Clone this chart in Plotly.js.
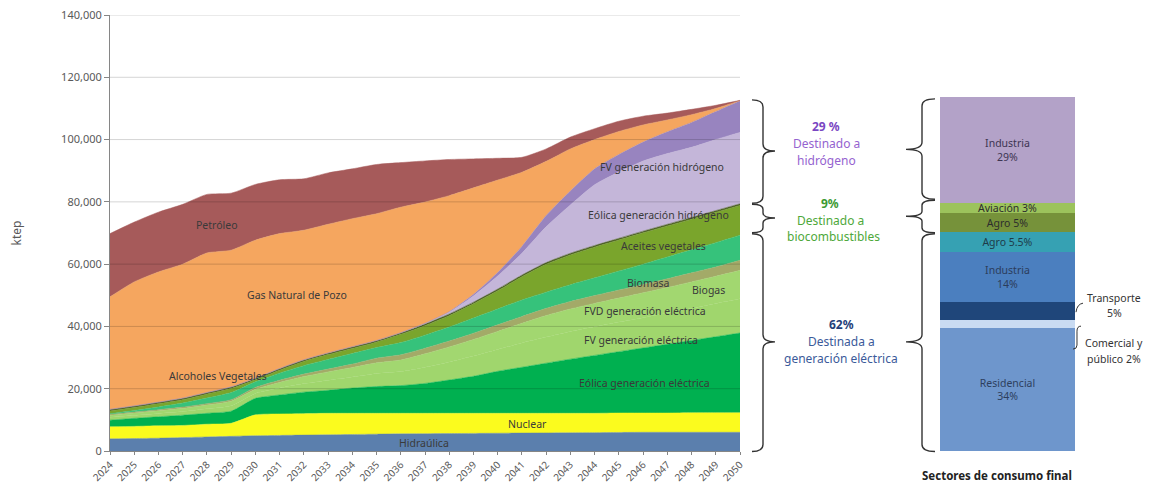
<!DOCTYPE html>
<html><head><meta charset="utf-8">
<script src="https://cdn.plot.ly/plotly-3.0.1.min.js"></script>
<style>html,body{margin:0;padding:0;background:#fff;}#chart{width:1151px;height:486px;}</style>
</head><body><div id="chart"></div>
<script>
// ---- data (ktep) ----
const years = [2024,2025,2026,2027,2028,2029,2030,2031,2032,2033,2034,2035,2036,2037,2038,2039,2040,2041,2042,2043,2044,2045,2046,2047,2048,2049,2050];
const hidraulica = [3900,4000,4100,4300,4500,4700,4900,5000,5100,5200,5300,5400,5500,5550,5600,5650,5700,5750,5800,5850,5900,5950,6000,6000,6000,6000,6000];
const nuclear = [3900,3900,4000,3900,4100,4200,6700,6900,6900,6900,6800,6700,6600,6550,6500,6450,6400,6350,6300,6250,6200,6250,6200,6200,6300,6300,6300];
const eolicaElec = [2100,2600,2900,3300,3500,3900,5300,6100,6900,7400,8100,8600,8900,9600,10700,11900,13500,14800,16100,17400,18600,19700,20900,22100,23200,24400,25600];
const fvElec = [900,950,1050,1200,1500,1750,1600,2200,2750,3250,3600,4200,4500,5200,5800,6500,7000,7800,8400,8900,9200,9500,9700,10000,10300,10700,11000];
const fvdElec = [700,750,850,1000,1200,1450,1300,1800,2250,2650,3000,3400,3700,4300,4800,5300,5800,6300,6900,7200,7500,7700,8000,8200,8500,8700,9100];
const biogas = [300,300,350,400,400,450,600,700,800,900,1100,1500,1700,1800,1900,2000,2100,2200,2300,2400,2500,2600,2700,2800,2900,3000,3250];
const biomasa = [200,500,900,1300,1800,2300,1800,2300,2700,3100,3400,3400,3900,4200,4500,4900,5100,5300,5200,5400,5700,6100,6500,7000,7400,7800,8050];
const aceites = [850,950,1000,1050,1250,1300,650,950,1350,1550,1650,1750,2650,3050,3650,4550,5850,7450,8950,9550,9850,9950,10050,9950,9850,9750,9550];
const alcoholes = [550,550,550,550,550,550,550,550,550,550,550,550,550,550,550,550,550,550,550,550,550,550,550,550,550,550,550];
const eolicaH2 = [0,0,0,0,0,0,0,0,0,0,0,0,0,150,600,2000,4200,7000,11500,15500,19500,21300,22500,22700,22500,22800,22900];
const fvH2 = [0,0,0,0,0,0,0,0,0,0,0,0,0,50,150,500,1100,2200,3600,4500,5100,5600,6100,7000,8000,9000,10200];
const gasNatural = [36100,39800,41800,43000,44800,43900,44300,43300,41600,41300,41100,40700,40300,38950,37250,34200,29700,23800,17400,13500,9400,7400,5500,3800,2500,1000,0];
const petroleo = [20300,19200,19200,19200,18800,18300,17900,17300,16500,16500,16000,15800,14300,13200,11600,9300,7000,4800,4000,3800,3500,3300,2800,2200,1700,1000,100];
const yTicks = [0,20000,40000,60000,80000,100000,120000,140000];

// final consumption sectors (percent), bottom to top
const sectorNames = ['Residencial','Comercial y público','Transporte','Industria','Agro','Agro','Aviación','Industria'];
const sectorPct = [34,2,5,14,5.5,5,3,29];
const sectorText = ['Residencial<br>34%','','','Industria<br>14%','Agro 5.5%','Agro 5%','Aviación 3%','Industria<br>29%'];
const sectorColors = ['#6e96cc','#c9dbf2','#1f467a','#4b7fbf','#36a1b3','#76923a','#9cc35c','#b3a2c8'];
const sectorTextColors = ['#2d3f5e','#333','#333','#2b3d5c','#1e3b4a','#2d2d2d','#2d2d2d','#3d3552'];

const FONT = 'Noto Sans, Liberation Sans, sans-serif';
const layers = [
  ['Hidraúlica', hidraulica, '#5b7fad'],
  ['Nuclear', nuclear, '#fbfb1e'],
  ['Eólica generación eléctrica', eolicaElec, '#00b050'],
  ['FV generación eléctrica', fvElec, '#a0d66d'],
  ['FVD generación eléctrica', fvdElec, '#a2d770'],
  ['Biogas', biogas, '#a3aa68'],
  ['Biomasa', biomasa, '#36c27b'],
  ['Aceites vegetales', aceites, '#7aa52c'],
  ['Alcoholes Vegetales', alcoholes, '#4f6228'],
  ['Eólica generación hidrógeno', eolicaH2, '#c4b6d9'],
  ['FV generación hidrógeno', fvH2, '#9884bf'],
  ['Gas Natural de Pozo', gasNatural, '#f5a65f'],
  ['Petróleo', petroleo, '#a65a5a']
];

const traces = layers.map(([name, vals, col]) => ({
  type:'scatter', x: years, y: vals, name: name, stackgroup:'energia',
  mode:'lines', line:{width:0.5, color:col, shape:'spline', smoothing:0.6}, fillcolor: col,
  hoverinfo:'skip', showlegend:false
}));

sectorPct.forEach((v,i) => {
  traces.push({
    type:'bar', x:[0], y:[v], name: sectorNames[i], xaxis:'x2', yaxis:'y2',
    marker:{color: sectorColors[i], line:{width:0}}, text:[sectorText[i]],
    textposition:'inside', insidetextanchor:'middle', textangle:0, constraintext:'none',
    textfont:{family:FONT, size:10.5, color: sectorTextColors[i]},
    hoverinfo:'skip', showlegend:false
  });
});

// pixel -> paper helpers for decorations
const L=110, W=1041, B=451, H=436.5;
const px = x => (x-L)/W, py = y => (B-y)/H;
const P = (x,y) => px(x).toFixed(5)+','+py(y).toFixed(5);
function brace(xe, xs, xc, yt, ym, yb, r){
  return 'M'+P(xe,yt)+' Q'+P(xs,yt)+' '+P(xs,yt+r)+' L'+P(xs,ym-r)+' Q'+P(xs,ym)+' '+P(xc,ym)+
         ' Q'+P(xs,ym)+' '+P(xs,ym+r)+' L'+P(xs,yb-r)+' Q'+P(xs,yb)+' '+P(xe,yb);
}
const braceLine = {color:'#333333', width:1.4};
const shapes = [];
[[99.5,150.7,203,7],[204,217.7,232.5,5],[233.5,341.7,451.5,7]].forEach(b =>
  shapes.push({type:'path', xref:'paper', yref:'paper', path: brace(752,763,775,b[0],b[1],b[2],b[3]), line:braceLine}));
[[98.5,149,199,7],[200,216,232.5,5],[233.5,341.7,451.5,7]].forEach(b =>
  shapes.push({type:'path', xref:'paper', yref:'paper', path: brace(935,922,906,b[0],b[1],b[2],b[3]), line:braceLine}));
// connectors for small sectors
shapes.push({type:'path', xref:'paper', yref:'paper', path:'M'+P(1076,312)+' Q'+P(1077,304)+' '+P(1083,303), line:{color:'#333',width:1}});
shapes.push({type:'path', xref:'paper', yref:'paper', path:'M'+P(1081,326)+' Q'+P(1077,326)+' '+P(1077,331)+' L'+P(1077,345)+' Q'+P(1077,349)+' '+P(1073,349), line:{color:'#333',width:1}});
// gridlines drawn above the areas (as in the original)
yTicks.slice(1).forEach(v => shapes.push({type:'line', xref:'x', yref:'y', x0:years[0], x1:years[years.length-1], y0:v, y1:v,
  line:{color:'rgba(0,0,0,0.17)', width:1}, layer:'above'}));

const ann = [];
function lab(text, x, y, size, color, bold){
  ann.push({text: bold ? '<b>'+text+'</b>' : text, xref:'paper', yref:'paper', x:px(x), y:py(y),
    xanchor:'center', yanchor:'middle', showarrow:false, font:{family:FONT, size:size, color:color}});
}
const tc = '#3a3a3a';
lab('Petróleo', 217, 225, 10.5, tc);
lab('Gas Natural de Pozo', 297, 295, 10.5, tc);
lab('Alcoholes Vegetales', 218, 376, 10.5, tc);
lab('Hidraúlica', 424, 443, 10.5, tc);
lab('Nuclear', 527, 424, 10.5, tc);
lab('Eólica generación eléctrica', 644, 383, 10.5, tc);
lab('FV generación eléctrica', 641, 340, 10.5, tc);
lab('FVD generación eléctrica', 645, 311, 10.5, tc);
lab('Biomasa', 648, 283, 10.5, tc);
lab('Biogas', 708, 290, 10.5, tc);
lab('Aceites vegetales', 663, 246, 10.5, tc);
lab('Eólica generación hidrógeno', 658, 215, 10.5, tc);
lab('FV generación hidrógeno', 662, 167, 10.5, tc);
lab('29 %', 826, 126, 12, '#7a46c2', true);
lab('Destinado a', 826, 143, 12, '#9563d0');
lab('hidrógeno', 826, 160, 12, '#9563d0');
lab('9%', 830, 203, 12, '#3d9a33', true);
lab('Destinado a', 830, 220, 12, '#4ea83a');
lab('biocombustibles', 833, 236, 12, '#4ea83a');
lab('62%', 841, 324, 12, '#243f7a', true);
lab('Destinada a', 841, 341, 12, '#3b5a9a');
lab('generación eléctrica', 841, 358, 12, '#3b5a9a');
lab('Transporte', 1114, 298, 10.5, '#333');
lab('5%', 1114, 313, 10.5, '#333');
lab('Comercial y', 1114, 343, 10.5, '#333');
lab('público 2%', 1114, 359, 10.5, '#333');
lab('Sectores de consumo final', 997, 476, 11.5, '#222', true);

const layout = {
  width:1151, height:486, margin:{l:L, r:1151-L-W, t:14.5, b:35, pad:0},
  paper_bgcolor:'#ffffff', plot_bgcolor:'#ffffff', showlegend:false,
  font:{family:FONT, size:11, color:'#595959'},
  barmode:'stack', bargap:0,
  xaxis:{domain:[0, px(740)], range:[years[0], years[years.length-1]], tickvals: years, tickangle:-45,
    showgrid:false, zeroline:false, showline:true, linecolor:'#868686', linewidth:1,
    ticks:'outside', ticklen:3, tickcolor:'#868686', tickfont:{family:FONT, size:10, color:'#595959'}},
  yaxis:{range:[0,140000], tickvals: yTicks, tickformat:',', showgrid:false, zeroline:false,
    showline:true, linecolor:'#868686', linewidth:1, ticks:'outside', ticklen:5, tickcolor:'#868686',
    tickfont:{family:FONT, size:11, color:'#595959'},
    title:{text:'ktep', standoff:36, font:{family:FONT, size:12, color:'#595959'}}},
  xaxis2:{domain:[px(940), px(1075)], range:[-0.5,0.5], visible:false, anchor:'y2'},
  yaxis2:{domain:[0,1], range:[0, 436.5/((451-97)/97.5)], visible:false, anchor:'x2'},
  shapes: shapes, annotations: ann
};
Plotly.newPlot('chart', traces, layout, {staticPlot:true, displayModeBar:false});
</script></body></html>
